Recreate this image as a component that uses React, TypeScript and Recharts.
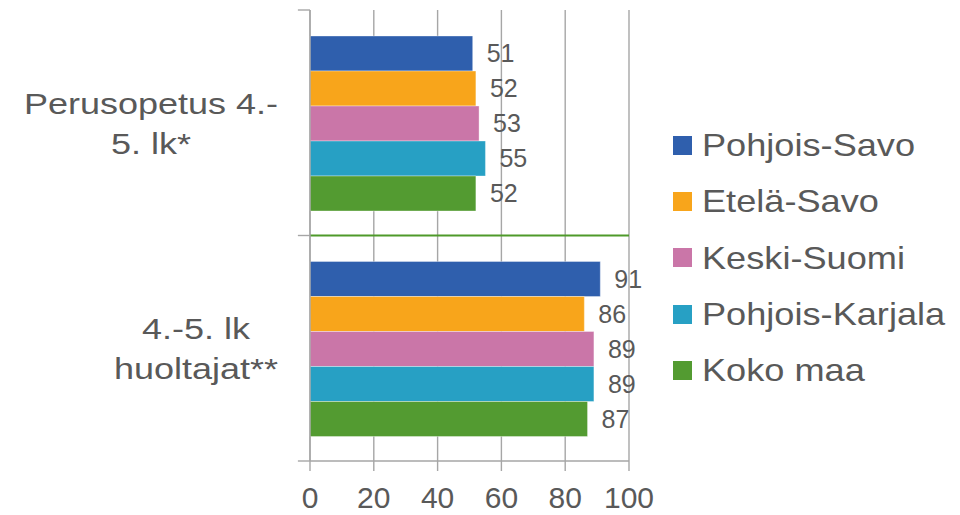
import React from 'react';
import { BarChart, Bar, XAxis, YAxis, CartesianGrid, Legend, LabelList, ReferenceLine } from 'recharts';

const categories = ['Perusopetus 4.-5. lk*', '4.-5. lk huoltajat**'];
const categoryLines = [
    ['Perusopetus 4.-', '5. lk*'],
    ['4.-5. lk', 'huoltajat**'],
];
const seriesNames = ['Pohjois-Savo', 'Etelä-Savo', 'Keski-Suomi', 'Pohjois-Karjala', 'Koko maa'];
const pohjoisSavo = [51, 91];
const etelaSavo = [52, 86];
const keskiSuomi = [53, 89];
const pohjoisKarjala = [55, 89];
const kokoMaa = [52, 87];
const xTicks = [0, 20, 40, 60, 80, 100];

const COLORS = ['#2F5FAD', '#F8A51B', '#CA76A8', '#27A0C4', '#539B31'];
const TEXT = '#595959';
const GRID = '#A6A6A6';
const FONT = '"Liberation Sans", Arial, sans-serif';

const seriesValues = [pohjoisSavo, etelaSavo, keskiSuomi, pohjoisKarjala, kokoMaa];
const data = categories.map((name, i) => {
    const row: any = { name };
    seriesNames.forEach((s, j) => {
        row[s] = seriesValues[j][i];
    });
    return row;
});

const CAT_SIZE = 30;
const CAT_STRETCH = 1.2;
let ctx: CanvasRenderingContext2D | null = null;
function textWidth(t: string) {
    if (!ctx) ctx = document.createElement('canvas').getContext('2d');
    if (!ctx) return t.length * CAT_SIZE * 0.5 * CAT_STRETCH;
    ctx.font = `${CAT_SIZE}px "Liberation Sans"`;
    return ctx.measureText(t).width * CAT_STRETCH;
}

function CategoryTick({ x, y, payload }: any) {
    const idx = categories.indexOf(payload.value);
    const lines = categoryLines[idx] || [payload.value];
    const maxW = Math.max(...lines.map(textWidth));
    const cx = x - 32 - maxW / 2;
    const lh = 40;
    const startY = y - ((lines.length - 1) * lh) / 2;
    return (
        <g transform={`translate(${cx},${startY}) scale(${CAT_STRETCH},1)`}>
            <text x={0} y={0} textAnchor="middle" fill={TEXT} fontSize={CAT_SIZE} fontFamily={FONT}>
                {lines.map((l, i) => (
                    <tspan key={i} x={0} y={i * lh} dy="0.36em">
                        {l}
                    </tspan>
                ))}
            </text>
        </g>
    );
}

function LegendContent({ payload }: any) {
    const items = [...(payload || [])].sort(
        (a: any, b: any) => seriesNames.indexOf(a.value) - seriesNames.indexOf(b.value)
    );
    return (
        <div style={{ fontFamily: FONT }}>
            {items.map((p: any) => (
                <div key={p.value} style={{ height: 56.3, display: 'flex', alignItems: 'center' }}>
                    <span style={{ width: 19, height: 19, background: p.color, display: 'inline-block', marginRight: 10, flex: 'none' }} />
                    <span
                        style={{
                            fontSize: 32,
                            lineHeight: 1,
                            color: TEXT,
                            whiteSpace: 'nowrap',
                            display: 'inline-block',
                            transform: 'scaleX(1.13)',
                            transformOrigin: 'left center',
                        }}
                    >
                        {p.value}
                    </span>
                </div>
            ))}
        </div>
    );
}

export default function App() {
    return (
        <div style={{ width: 960, height: 515, background: '#fff' }}>
            <style>{'body{margin:0}'}</style>
            <BarChart
                width={960}
                height={515}
                data={data}
                layout="vertical"
                margin={{ top: 10, right: 331, bottom: 0, left: 0 }}
                barCategoryGap={26}
                barGap={0}
            >
                <CartesianGrid horizontal={false} stroke={GRID} strokeWidth={1.4} />
                <XAxis
                    type="number"
                    domain={[0, 100]}
                    ticks={xTicks}
                    height={54}
                    tickSize={10}
                    tickMargin={16}
                    stroke={GRID}
                    strokeWidth={1.4}
                    tick={{ fill: TEXT, fontSize: 30, fontFamily: FONT }}
                />
                <YAxis
                    type="category"
                    dataKey="name"
                    width={310}
                    tickSize={0}
                    tickMargin={0}
                    tickLine={false}
                    stroke={GRID}
                    strokeWidth={1.4}
                    tick={<CategoryTick />}
                />
                <Legend
                    layout="vertical"
                    align="center"
                    verticalAlign="middle"
                    wrapperStyle={{ left: 673, top: 117, width: 287 }}
                    content={<LegendContent />}
                />
                {seriesNames.map((s, i) => (
                    <Bar
                        key={s}
                        dataKey={s}
                        fill={COLORS[i]}
                        stroke="rgba(255,255,255,0.35)"
                        strokeWidth={1}
                        isAnimationActive={false}
                    >
                        <LabelList dataKey={s} position="right" offset={14} fill={TEXT} fontSize={25} fontFamily={FONT} />
                    </Bar>
                ))}
                <ReferenceLine
                    segment={[{ x: -3.8, y: categories[0] }, { x: 0, y: categories[0] }]}
                    position="start"
                    ifOverflow="visible"
                    stroke={GRID}
                    strokeWidth={1.4}
                />
                <ReferenceLine
                    segment={[{ x: -3.8, y: categories[1] }, { x: 0, y: categories[1] }]}
                    position="start"
                    ifOverflow="visible"
                    stroke={GRID}
                    strokeWidth={1.4}
                />
                <ReferenceLine
                    segment={[{ x: -3.8, y: categories[1] }, { x: 0, y: categories[1] }]}
                    position="end"
                    ifOverflow="visible"
                    stroke={GRID}
                    strokeWidth={1.4}
                />
                <ReferenceLine y={categories[1]} position="start" ifOverflow="visible" stroke="#4E9A2A" strokeWidth={2} />
            </BarChart>
        </div>
    );
}
